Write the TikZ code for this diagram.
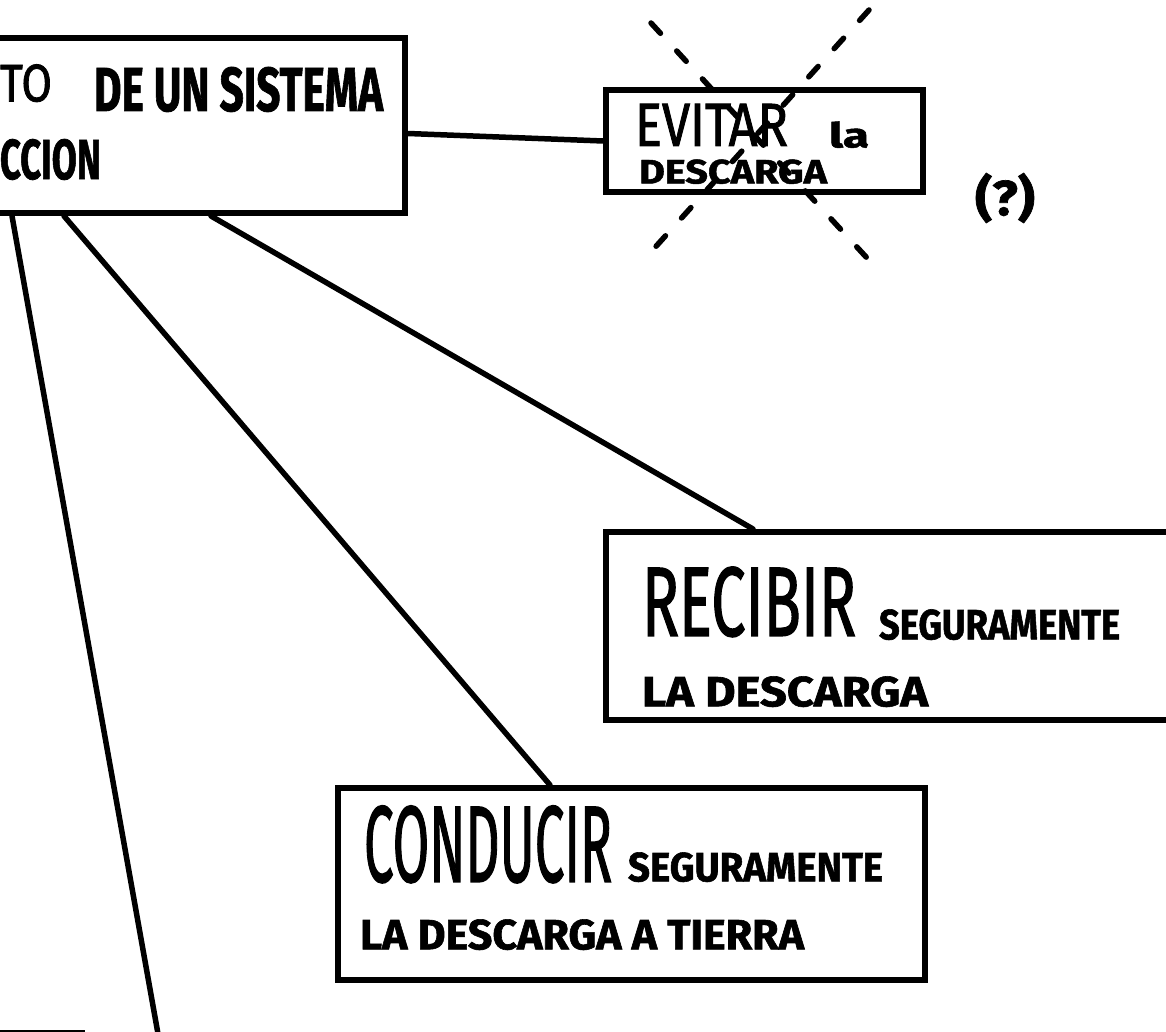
\documentclass[tikz,border=0pt]{standalone}
\usepackage{fontspec}
\setmainfont{Fira Sans}
\newfontfamily\thinf{Fira Sans}[FakeBold=1.6]
\newfontfamily\heavyf{Fira Sans}[FakeBold=1.4]
\usetikzlibrary{calc}
\newcommand{\thinbox}[3]{\resizebox{#1pt}{#2pt}{\thinf #3}}
\newcommand{\heavybox}[3]{\resizebox{#1pt}{#2pt}{\heavyf\bfseries #3}}
\begin{document}
\begin{tikzpicture}[x=1pt,y=-1pt,
  box/.style={draw,line width=6pt,rectangle,inner sep=0pt},
  txt/.style={anchor=south west,inner sep=0pt,outer sep=0pt},
  link/.style={line width=5.5pt,line cap=round},
  xdash/.style={line width=5.5pt,line cap=round,dash pattern=on 14pt off 24pt}]
\useasboundingbox (0,0) rectangle (1166,1032);
\clip (0,0) rectangle (1166,1032);

% boxes
\node[box,minimum width=445pt,minimum height=175pt] (main) at (182.5,125.5) {};
\node[box,minimum width=317pt,minimum height=102pt] (evitar) at (764.5,141) {};
\node[box,minimum width=584pt,minimum height=188pt] (rec) at (898,626) {};
\node[box,minimum width=587pt,minimum height=192pt] (cond) at (631.5,884) {};

% texts
\node[txt] (t1) at (0,102) {\thinbox{52}{37}{TO}};
\node[txt] (t2) at (94,112) {\heavybox{289}{44}{DE UN SISTEMA}};
\node[txt] (t3) at (0,180) {\heavybox{101}{40}{CCION}};
\node[txt] (t4) at (635,146) {\thinbox{153}{42}{EVITAR}};
\node[txt] (t5) at (829,148) {\heavybox{40}{26}{la}};
\node[txt] (t6) at (639,184) {\heavybox{188}{24}{DESCARGA}};
\node[txt] (t7) at (975,223) {\resizebox*{60pt}{50pt}{\heavyf\bfseries (?)}};
\node[txt] (t8) at (642,637) {\thinbox{214}{69}{RECIBIR}};
\node[txt] (t9) at (879,640) {\heavybox{241}{30}{SEGURAMENTE}};
\node[txt] (t10) at (642,707) {\heavybox{286}{30}{LA DESCARGA}};
\node[txt] (t11) at (364,883) {\thinbox{248}{76}{CONDUCIR}};
\node[txt] (t12) at (628,882) {\heavybox{255}{29}{SEGURAMENTE}};
\node[txt] (t13) at (360,950) {\heavybox{444}{30}{LA DESCARGA A TIERRA}};

% connectors
\coordinate (bl) at (160,1045);
\draw[link] ([yshift=-8pt]main.east) -- (evitar.west);
\draw[link] ([xshift=55pt]main.south west) -- (bl);
\draw[link] ([xshift=107pt]main.south west) -- ([xshift=215pt]cond.north west);
\draw[link] ([xshift=254pt]main.south west) -- ([xshift=150pt]rec.north west);

% dashed cross over EVITAR
\coordinate (a1) at (651,23);
\coordinate (a2) at (867,258);
\coordinate (b1) at (869,10);
\coordinate (b2) at (641,263);
\draw[xdash] (a1) -- (a2);
\draw[xdash] (b1) -- (b2);

% fragment at bottom left
\coordinate (f1) at (0,1031);
\coordinate (f2) at (85,1031);
\draw[line width=3pt] (f1) -- (f2);
\end{tikzpicture}
\end{document}
